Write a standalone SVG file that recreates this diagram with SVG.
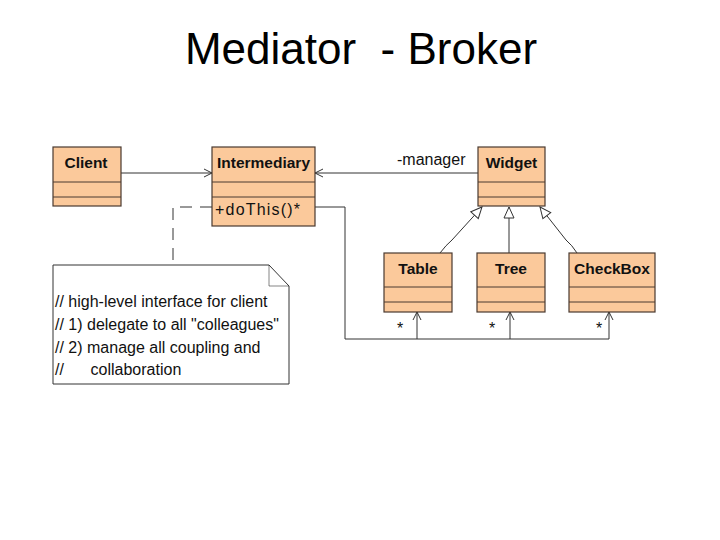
<svg xmlns="http://www.w3.org/2000/svg" width="720" height="540" viewBox="0 0 720 540">
<defs>
<style>
.box{fill:#fbc99b;stroke:#4a3a30;stroke-width:1.2}
.sep{stroke:#4a3a30;stroke-width:1}
.name{font-family:"Liberation Sans",Arial,sans-serif;font-size:15.5px;font-weight:bold;fill:#111;text-anchor:middle}
.txt{font-family:"Liberation Sans",Arial,sans-serif;font-size:16px;fill:#111}
.ln{fill:none;stroke:#333;stroke-width:1}
.dash{fill:none;stroke:#333;stroke-width:1;stroke-dasharray:12,8}
</style>
<marker id="open" markerWidth="10" markerHeight="10" refX="9" refY="5" orient="auto" markerUnits="userSpaceOnUse">
<path d="M1,1 L9,5 L1,9" fill="none" stroke="#333" stroke-width="1"/>
</marker>
<marker id="tri" markerWidth="14" markerHeight="14" refX="12" refY="6" orient="auto" markerUnits="userSpaceOnUse">
<path d="M1,1 L12,6 L1,11 Z" fill="#fff" stroke="#333" stroke-width="1"/>
</marker>
</defs>
<rect width="720" height="540" fill="#fff"/>
<text x="361" y="64" font-family="'Liberation Sans',Arial,sans-serif" font-size="44" text-anchor="middle" fill="#000" xml:space="preserve">Mediator  - Broker</text>

<g id="connectors">
<line class="ln" x1="121" y1="173" x2="212" y2="173" marker-end="url(#open)"/>
<line class="ln" x1="478" y1="173" x2="315" y2="173" marker-end="url(#open)"/>
<text class="txt" x="397" y="165" font-size="17">-manager</text>
<path class="ln" d="M440,253 Q446,245 452,240 L482,207" marker-end="url(#tri)"/>
<line class="ln" x1="509" y1="253" x2="509" y2="207" marker-end="url(#tri)"/>
<path class="ln" d="M577,253 Q572,245 566,240 L540,207" marker-end="url(#tri)"/>
<path class="ln" d="M315,207 L345,207 L345,339 L609,339"/>
<line class="ln" x1="417" y1="339" x2="417" y2="312" marker-end="url(#open)"/>
<line class="ln" x1="510" y1="339" x2="510" y2="312" marker-end="url(#open)"/>
<line class="ln" x1="609" y1="339" x2="609" y2="312" marker-end="url(#open)"/>
<text class="txt" x="397" y="334" font-size="13">*</text>
<text class="txt" x="489" y="334" font-size="13">*</text>
<text class="txt" x="596" y="334" font-size="13">*</text>
<path class="dash" d="M212,207 L173,207 L173,265"/>
</g>

<g id="client">
<rect class="box" x="53" y="147" width="68" height="59"/>
<line class="sep" x1="53" y1="182" x2="121" y2="182"/>
<line class="sep" x1="53" y1="197" x2="121" y2="197"/>
<text class="name" x="86" y="168">Client</text>
</g>

<g id="intermediary">
<rect class="box" x="212" y="147" width="103" height="79"/>
<line class="sep" x1="212" y1="182" x2="315" y2="182"/>
<line class="sep" x1="212" y1="197" x2="315" y2="197"/>
<text class="name" x="263.5" y="168">Intermediary</text>
<text class="txt" x="215" y="215" font-size="15" letter-spacing="1.2">+doThis()*</text>
</g>

<g id="widget">
<rect class="box" x="478" y="147" width="67" height="59"/>
<line class="sep" x1="478" y1="182" x2="545" y2="182"/>
<line class="sep" x1="478" y1="197" x2="545" y2="197"/>
<text class="name" x="511.5" y="168">Widget</text>
</g>

<g id="table">
<rect class="box" x="384" y="253" width="68" height="59"/>
<line class="sep" x1="384" y1="287" x2="452" y2="287"/>
<line class="sep" x1="384" y1="302" x2="452" y2="302"/>
<text class="name" x="418" y="274">Table</text>
</g>

<g id="tree">
<rect class="box" x="477" y="253" width="68" height="59"/>
<line class="sep" x1="477" y1="287" x2="545" y2="287"/>
<line class="sep" x1="477" y1="302" x2="545" y2="302"/>
<text class="name" x="511" y="274">Tree</text>
</g>

<g id="checkbox">
<rect class="box" x="569" y="253" width="86" height="59"/>
<line class="sep" x1="569" y1="287" x2="655" y2="287"/>
<line class="sep" x1="569" y1="302" x2="655" y2="302"/>
<text class="name" x="612" y="274">CheckBox</text>
</g>

<g id="note">
<path d="M53,265 L269,265 L289,286 L289,384 L53,384 Z" fill="#fff" stroke="#333" stroke-width="1"/>
<path d="M269,265 L269,286 L289,286" fill="none" stroke="#333" stroke-width="0.6"/>
<text class="txt" x="55" y="307" xml:space="preserve">// high-level interface for client</text>
<text class="txt" x="55" y="330" xml:space="preserve">// 1) delegate to all "colleagues"</text>
<text class="txt" x="55" y="353" xml:space="preserve">// 2) manage all coupling and</text>
<text class="txt" x="55" y="375" xml:space="preserve">//      collaboration</text>
</g>
</svg>
